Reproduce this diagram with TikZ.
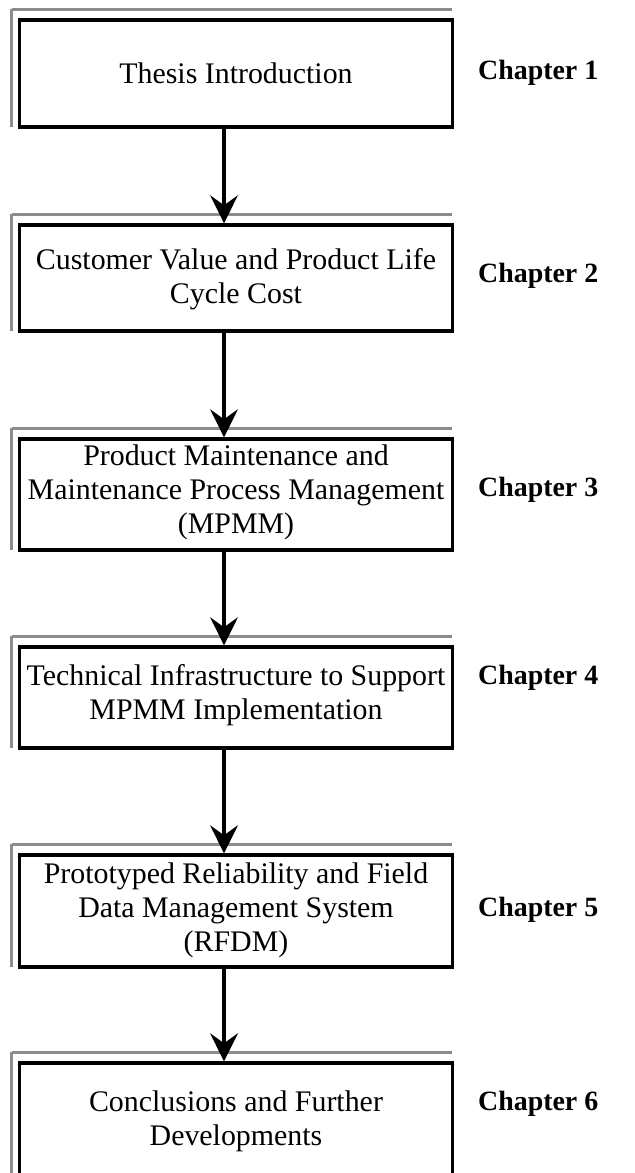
\documentclass[tikz,border=0pt]{standalone}
\usepackage{fontspec}
\setmainfont{Liberation Serif}
\usetikzlibrary{arrows.meta,calc}

\tikzset{
  frame/.style={draw=black, line width=3.5bp, minimum width=433bp, inner sep=0pt},
  boxtext/.style={align=center, inner sep=0pt, font=\fontsize{30}{34}\selectfont},
  chap/.style={anchor=west, inner sep=0pt, font=\fontsize{28}{32}\selectfont\bfseries},
  flow/.style={line width=3.5bp, -{Stealth[length=28bp, width=28bp, inset=10bp]}},
  scanedge/.style={draw=black!45, line width=3.5bp},
}

\begin{document}
\begin{tikzpicture}[x=1bp, y=-1bp]
  \useasboundingbox (0,0) rectangle (635,1173);
  \begin{scope}
  \clip (0,0) rectangle (635,1173);

  % chapter frames
  \node[frame, minimum height=107bp] (b1) at (236,73.5)  {};
  \node[frame, minimum height=106bp] (b2) at (236,278)   {};
  \node[frame, minimum height=111bp] (b3) at (236,494.5) {};
  \node[frame, minimum height=101bp] (b4) at (236,697.5) {};
  \node[frame, minimum height=112bp] (b5) at (236,911)   {};
  \node[frame, minimum height=187bp] (b6) at (236,1156.5) {};

  % faint doubled edges along the top and left of each frame
  \foreach \b in {b1,b2,b3,b4,b5,b6} {
    \draw[scanedge] ([xshift=-6bp, yshift=9bp]\b.north west) -- ([xshift=-2bp, yshift=9bp]\b.north east);
    \draw[scanedge] ([xshift=-6bp, yshift=9bp]\b.north west) -- ([xshift=-6bp, yshift=2bp]\b.south west);
  }

  % frame captions
  \node[boxtext] (t1) at (236,73)   {Thesis Introduction};
  \node[boxtext] (t2) at (236,279)  {Customer Value and Product Life\\Cycle Cost};
  \node[boxtext] (t3) at (236,492)  {Product Maintenance and\\Maintenance Process Management\\(MPMM)};
  \node[boxtext] (t4) at (236,695)  {Technical Infrastructure to Support\\MPMM Implementation};
  \node[boxtext] (t5) at (236,910)  {Prototyped Reliability and Field\\Data Management System\\(RFDM)};
  \node[boxtext] (t6) at (236,1121) {Conclusions and Further\\Developments};

  % chapter labels
  \node[chap] (c1) at (478,73)   {Chapter 1};
  \node[chap] (c2) at (478,276)  {Chapter 2};
  \node[chap] (c3) at (478,490)  {Chapter 3};
  \node[chap] (c4) at (478,678)  {Chapter 4};
  \node[chap] (c5) at (478,910)  {Chapter 5};
  \node[chap] (c6) at (478,1104) {Chapter 6};

  % connectors
  \coordinate (ax) at (224,0);
  \draw[flow] (b1.south -| ax) -- (b2.north -| ax);
  \draw[flow] (b2.south -| ax) -- (b3.north -| ax);
  \draw[flow] (b3.south -| ax) -- (b4.north -| ax);
  \draw[flow] (b4.south -| ax) -- (b5.north -| ax);
  \draw[flow] (b5.south -| ax) -- (b6.north -| ax);
  \end{scope}
\end{tikzpicture}
\end{document}
